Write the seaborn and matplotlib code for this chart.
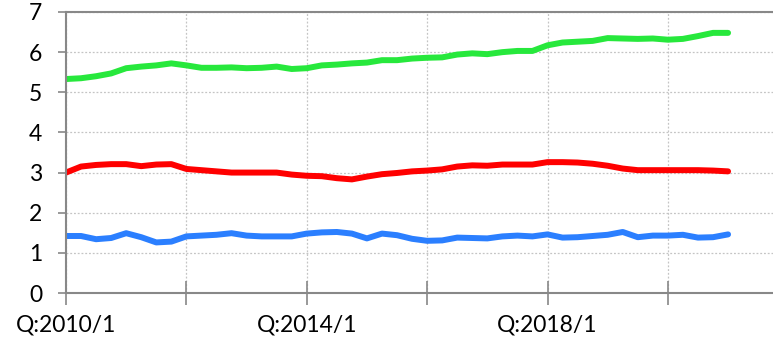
import numpy as np
import pandas as pd
import matplotlib
matplotlib.use("Agg")
import matplotlib.pyplot as plt
import seaborn as sns

# Quarterly periods 2010/1 .. 2021/1
quarters = [f"Q:{y}/{q}" for y in range(2010, 2022) for q in range(1, 5)][:45]

green_series = [5.33, 5.35, 5.40, 5.47, 5.60, 5.64, 5.67, 5.72, 5.67, 5.61,
                5.61, 5.62, 5.60, 5.61, 5.64, 5.58, 5.60, 5.67, 5.69, 5.72,
                5.74, 5.80, 5.80, 5.84, 5.86, 5.87, 5.94, 5.97, 5.95, 6.00,
                6.03, 6.03, 6.17, 6.24, 6.26, 6.28, 6.35, 6.34, 6.33, 6.34,
                6.31, 6.33, 6.40, 6.48, 6.48]
red_series = [3.00, 3.15, 3.19, 3.21, 3.21, 3.16, 3.20, 3.21, 3.09, 3.06,
              3.03, 3.00, 3.00, 3.00, 3.00, 2.95, 2.92, 2.91, 2.86, 2.83,
              2.90, 2.96, 2.99, 3.03, 3.05, 3.08, 3.15, 3.18, 3.17, 3.20,
              3.20, 3.20, 3.26, 3.26, 3.25, 3.22, 3.17, 3.10, 3.06, 3.06,
              3.06, 3.06, 3.06, 3.05, 3.03]
blue_series = [1.42, 1.42, 1.34, 1.37, 1.49, 1.39, 1.26, 1.28, 1.41, 1.43,
               1.45, 1.49, 1.43, 1.41, 1.41, 1.41, 1.48, 1.51, 1.52, 1.48,
               1.36, 1.48, 1.44, 1.35, 1.30, 1.31, 1.38, 1.37, 1.36, 1.41,
               1.43, 1.41, 1.46, 1.38, 1.39, 1.42, 1.45, 1.52, 1.39, 1.43,
               1.43, 1.45, 1.38, 1.39, 1.46]

series_names = ["green", "red", "blue"]
series_colors = {"green": "#27e83c", "red": "#ff0000", "blue": "#2b7fff"}

frames = []
for name, vals in zip(series_names, [green_series, red_series, blue_series]):
    frames.append(pd.DataFrame({"idx": np.arange(len(vals)), "value": vals,
                                "series": name}))
df = pd.concat(frames, ignore_index=True)

sns.set_theme(style="white")
plt.rcParams["font.family"] = ["Lato", "DejaVu Sans"]

fig = plt.figure(figsize=(7.73, 3.43), dpi=100)
ax = fig.add_axes([66 / 773, 50 / 343, 1 - 66 / 773 + 0.01, 281 / 343])

sns.lineplot(data=df, x="idx", y="value", hue="series", palette=series_colors,
             linewidth=4.3, legend=False, ax=ax, solid_capstyle="round")

ax.set_xlim(0, 47.5)
ax.set_ylim(0, 7)
ax.set_xlabel("")
ax.set_ylabel("")

ax.set_yticks(range(0, 8))
ax.set_xticks(range(0, 45, 8))
ax.set_xticklabels([quarters[i] if i % 16 == 0 else "" for i in range(0, 45, 8)])

ax.tick_params(axis="y", which="both", left=True, length=6, width=1.2,
               color="#888888", pad=11, labelsize=16.5, labelcolor="black")
ax.tick_params(axis="x", which="both", bottom=True, direction="inout",
               length=17, width=1.2, color="#888888", pad=7, labelsize=16.5,
               labelcolor="black")

ax.grid(True, axis="both", linestyle=(0, (1.5, 1.5)), color="#c4c4c4",
        linewidth=0.9)
ax.set_axisbelow(True)

for side in ["left", "bottom", "top"]:
    ax.spines[side].set_color("#888888")
    ax.spines[side].set_linewidth(1.5)
ax.spines["right"].set_visible(False)

fig.savefig("out.png", dpi=100)
